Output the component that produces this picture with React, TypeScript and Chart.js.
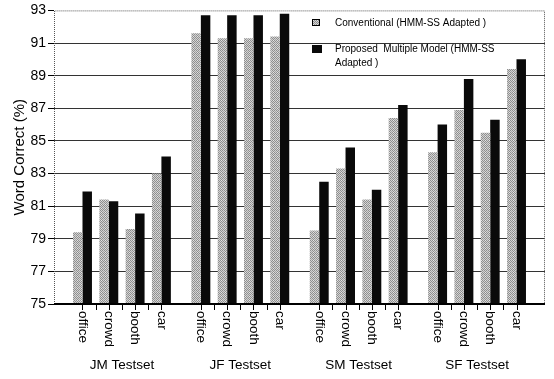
import React, { useEffect, useRef } from 'react';
import { Chart, registerables } from 'chart.js';

Chart.register(...registerables);

// ---- data ----
const groups = ['JM Testset', 'JF Testset', 'SM Testset', 'SF Testset'];
const conditions = ['office', 'crowd', 'booth', 'car'];
const seriesLabels = ['Conventional (HMM-SS Adapted )', 'Proposed  Multiple Model (HMM-SS Adapted )'];
const conventional = [79.4, 81.4, 79.6, 83.0, 91.6, 91.3, 91.3, 91.4, 79.5, 83.3, 81.4, 86.4, 84.3, 86.9, 85.5, 89.4];
const proposed = [81.9, 81.3, 80.55, 84.05, 92.7, 92.7, 92.7, 92.8, 82.5, 84.6, 82.0, 87.2, 86.0, 88.8, 86.3, 90.0];
const yTicks = [75, 77, 79, 81, 83, 85, 87, 89, 91, 93];
const yTitle = 'Word Correct (%)';

// ---- layout helpers ----
const FONT = '"Liberation Sans", Arial, Helvetica, sans-serif';
const GROUP_GAP = 0.5;
const posOf = (i: number) => Math.floor(i / conditions.length) * (conditions.length + GROUP_GAP) + (i % conditions.length);
const positions = conventional.map((_, i) => posOf(i));
const xMin = -0.5;
const xMax = positions[positions.length - 1] + 0.5;

function wrapText(ctx: CanvasRenderingContext2D, text: string, maxW: number): string[] {
  const words = text.split(' ');
  const lines: string[] = [];
  let cur = '';
  for (const w of words) {
    const t = cur ? cur + ' ' + w : w;
    if (cur && ctx.measureText(t).width > maxW) {
      lines.push(cur);
      cur = w;
    } else cur = t;
  }
  if (cur) lines.push(cur);
  return lines;
}

export default function App() {
  const canvasRef = useRef<HTMLCanvasElement | null>(null);

  useEffect(() => {
    const canvas = canvasRef.current;
    if (!canvas) return;
    const ctx0 = canvas.getContext('2d')!;
    const pc = document.createElement('canvas');
    pc.width = 4;
    pc.height = 4;
    const p = pc.getContext('2d')!;
    p.fillStyle = '#d2d2d2';
    p.fillRect(0, 0, 4, 4);
    p.fillStyle = '#8e8e8e';
    p.fillRect(0, 0, 1, 1);
    p.fillRect(2, 0, 1, 1);
    p.fillRect(1, 1, 1, 1);
    p.fillRect(3, 1, 1, 1);
    p.fillRect(0, 2, 1, 1);
    p.fillRect(2, 2, 1, 1);
    p.fillRect(1, 3, 1, 1);
    p.fillStyle = '#a6a6a6';
    p.fillRect(3, 3, 1, 1);
    p.fillStyle = '#e6e6e6';
    p.fillRect(1, 0, 1, 1);
    const pattern = ctx0.createPattern(pc, 'repeat')!;

    const decor = {
      id: 'decor',
      afterDraw(chart: any) {
        const ctx: CanvasRenderingContext2D = chart.ctx;
        const { left, right, top, bottom } = chart.chartArea;
        const xs = chart.scales.x;
        ctx.save();
        // frame
        ctx.strokeStyle = '#555';
        ctx.lineWidth = 1;
        ctx.setLineDash([1, 1]);
        ctx.beginPath();
        ctx.moveTo(left + 0.5, bottom);
        ctx.lineTo(left + 0.5, top + 0.5);
        ctx.lineTo(right - 0.5, top + 0.5);
        ctx.lineTo(right - 0.5, bottom);
        ctx.stroke();
        ctx.setLineDash([]);
        ctx.strokeStyle = '#000';
        ctx.lineWidth = 2;
        ctx.beginPath();
        ctx.moveTo(left, bottom);
        ctx.lineTo(right, bottom);
        ctx.stroke();
        // x tick marks
        ctx.lineWidth = 1;
        ctx.beginPath();
        positions.forEach((v, i) => {
          const marks = [v];
          if (i % conditions.length !== conditions.length - 1) marks.push(v + 0.5);
          marks.forEach((m) => {
            const px = Math.round(xs.getPixelForValue(m)) + 0.5;
            ctx.moveTo(px, bottom);
            ctx.lineTo(px, bottom + 6);
          });
        });
        ctx.stroke();
        // category labels (rotated clockwise)
        ctx.fillStyle = '#000';
        ctx.font = `13.5px ${FONT}`;
        ctx.textAlign = 'left';
        ctx.textBaseline = 'middle';
        positions.forEach((v, i) => {
          ctx.save();
          ctx.translate(xs.getPixelForValue(v), bottom + 7);
          ctx.rotate(Math.PI / 2);
          ctx.fillText(conditions[i % conditions.length], 0, 0);
          ctx.restore();
        });
        // group labels
        ctx.font = `13.5px ${FONT}`;
        ctx.textAlign = 'center';
        groups.forEach((g, gi) => {
          const a = xs.getPixelForValue(positions[gi * conditions.length]);
          const b = xs.getPixelForValue(positions[gi * conditions.length + conditions.length - 1]);
          ctx.fillText(g, (a + b) / 2, 365);
        });
        // y title
        ctx.save();
        ctx.translate(20, (top + bottom) / 2);
        ctx.rotate(-Math.PI / 2);
        ctx.font = `15px ${FONT}`;
        ctx.textAlign = 'center';
        ctx.textBaseline = 'middle';
        ctx.fillText(yTitle, 0, 0);
        ctx.restore();
        // legend
        ctx.font = `10px ${FONT}`;
        ctx.textAlign = 'left';
        ctx.textBaseline = 'middle';
        const lx = 312;
        const tx = 335;
        let ly = 23;
        chart.data.datasets.forEach((ds: any, di: number) => {
          ctx.fillStyle = ds.backgroundColor;
          if (di === 0) {
            ctx.fillRect(lx, ly - 4, 8, 7);
            ctx.strokeStyle = '#000';
            ctx.lineWidth = 1;
            ctx.strokeRect(lx + 0.5, ly - 3.5, 7, 6);
          } else {
            ctx.fillRect(lx, ly - 4, 10, 8);
          }
          ctx.fillStyle = '#000';
          const lines = wrapText(ctx, ds.label, 175);
          lines.forEach((ln, k) => ctx.fillText(ln, tx, ly + k * 14));
          ly += 26;
        });
        ctx.restore();
      },
    };

    const chart = new Chart(canvas, {
      type: 'bar',
      data: {
        datasets: [
          {
            label: seriesLabels[0],
            data: conventional.map((v, i) => ({ x: positions[i], y: v })),
            backgroundColor: pattern as any,
            borderWidth: 0,
            categoryPercentage: 0.72,
            barPercentage: 1,
          },
          {
            label: seriesLabels[1],
            data: proposed.map((v, i) => ({ x: positions[i], y: v })),
            backgroundColor: '#0a0a0a',
            borderWidth: 0,
            categoryPercentage: 0.72,
            barPercentage: 1,
          },
        ],
      },
      options: {
        responsive: false,
        animation: false,
        layout: { padding: { top: 10, right: 9, left: 0, bottom: 0 } },
        plugins: { legend: { display: false }, tooltip: { enabled: false } },
        scales: {
          x: {
            type: 'linear',
            min: xMin,
            max: xMax,
            afterBuildTicks: (s: any) => {
              s.ticks = positions.map((v) => ({ value: v }));
            },
            ticks: { display: false },
            grid: { display: false },
            border: { display: false },
            afterFit: (s: any) => {
              s.height = 75;
            },
          },
          y: {
            min: yTicks[0],
            max: yTicks[yTicks.length - 1],
            afterBuildTicks: (s: any) => {
              s.ticks = yTicks.map((v) => ({ value: v }));
            },
            ticks: { color: '#000', font: { family: FONT, size: 14 }, padding: 2 },
            grid: {
              color: (c: any) =>
                c.tick && (c.tick.value === yTicks[0] || c.tick.value === yTicks[yTicks.length - 1])
                  ? 'rgba(0,0,0,0)'
                  : '#333',
              tickColor: '#000',
              tickLength: 6,
              lineWidth: 1,
            },
            border: { display: false },
            afterFit: (s: any) => {
              s.width = 54;
            },
          },
        },
      } as any,
      plugins: [decor],
    });
    return () => chart.destroy();
  }, []);

  return (
    <div style={{ position: 'absolute', left: 0, top: 0, width: 554, height: 379, background: '#fff' }}>
      <canvas ref={canvasRef} width={554} height={379} style={{ display: 'block' }} />
    </div>
  );
}
